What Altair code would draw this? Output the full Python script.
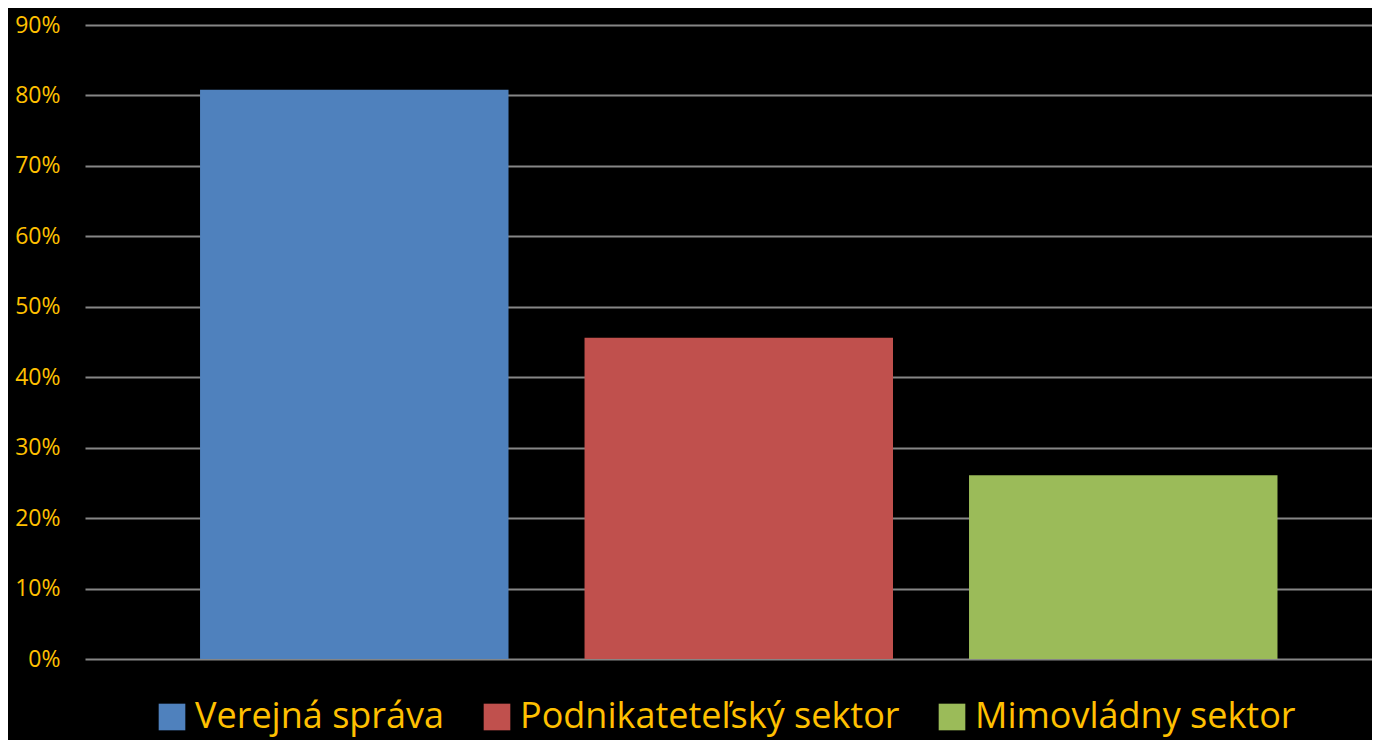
import altair as alt
import pandas as pd

categories = ["Verejná správa", "Podnikateteľský sektor", "Mimovládny sektor"]
values = [0.808, 0.456, 0.261]
colors = ["#4F81BD", "#C0504D", "#9BBB59"]
y_ticks = [0.0, 0.1, 0.2, 0.3, 0.4, 0.5, 0.6, 0.7, 0.8, 0.9]

df = pd.DataFrame({"sektor": categories, "podiel": values})

chart = alt.Chart(df).mark_bar().encode(
    x=alt.X(
        "sektor:N",
        sort=categories,
        scale=alt.Scale(paddingInner=0.1977, paddingOuter=0.2725, align=0.549),
        axis=None,
    ),
    y=alt.Y(
        "podiel:Q",
        scale=alt.Scale(domain=[0, 0.9], nice=False),
        axis=alt.Axis(
            values=y_ticks,
            format=".0%",
            title=None,
            domain=False,
            ticks=False,
            labelColor="#FFC000",
            labelFont="Open Sans",
            labelFontSize=23,
            labelPadding=25,
            gridColor="#868686",
            gridWidth=2,
        ),
    ),
    color=alt.Color(
        "sektor:N",
        sort=categories,
        scale=alt.Scale(domain=categories, range=colors),
        legend=alt.Legend(
            orient="none",
            legendX=69,
            legendY=674,
            direction="horizontal",
            title=None,
            symbolType="square",
            symbolSize=710,
            symbolStrokeWidth=0,
            labelFont="Open Sans",
            labelFontSize=36,
            labelColor="#FFC000",
            labelOffset=5,
            columnPadding=34,
            labelLimit=1000,
        ),
    ),
).properties(
    width=1287,
    height=634,
    background="black",
    padding={"left": 77, "top": 17, "right": 0, "bottom": 81},
    autosize=alt.AutoSizeParams(type="none"),
).configure_view(stroke=None)

chart.save("out.html", embed_options={"renderer": "svg", "actions": False})
